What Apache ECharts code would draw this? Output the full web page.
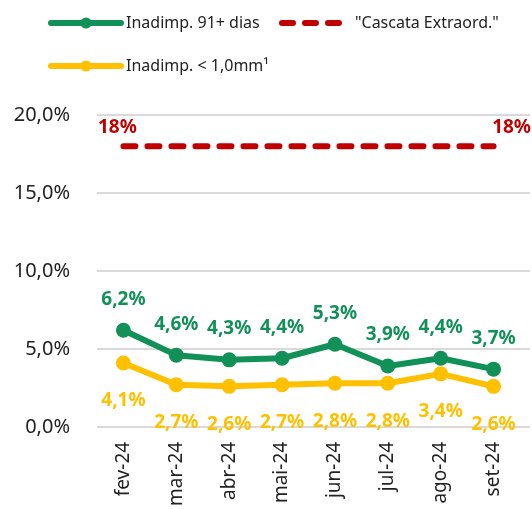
<!DOCTYPE html>
<html>
<head>
<meta charset="utf-8">
<script src="https://cdn.jsdelivr.net/npm/echarts@6/dist/echarts.min.js"></script>
<style>
  html, body { margin: 0; padding: 0; background: #fff; }
  #chart { width: 532px; height: 509px; }
</style>
</head>
<body>
<div id="chart"></div>
<script>
    // dados
    const meses = ['fev-24', 'mar-24', 'abr-24', 'mai-24', 'jun-24', 'jul-24', 'ago-24', 'set-24'];
    const inad91 = [6.2, 4.6, 4.3, 4.4, 5.3, 3.9, 4.4, 3.7];
    const inadMenor = [4.1, 2.7, 2.6, 2.7, 2.8, 2.8, 3.4, 2.6];
    const cascata = [18, 18, 18, 18, 18, 18, 18, 18];
    const yMin = 0, yMax = 20, yStep = 5;

    const VERDE = '#119158';
    const AMARELO = '#FFC000';
    const VERMELHO = '#C00000';
    const FONTE = '"Noto Sans", sans-serif';

    const pct = v => v.toFixed(1).replace('.', ',') + '%';

    // icone da legenda vermelha: tres tracos arredondados
    const ICONE_TRACOS = 'path://' +
        'M3,0 L14,0 A3,3 0 0 1 14,6 L3,6 A3,3 0 0 1 3,0 Z ' +
        'M26,0 L37,0 A3,3 0 0 1 37,6 L26,6 A3,3 0 0 1 26,0 Z ' +
        'M49,0 L60,0 A3,3 0 0 1 60,6 L49,6 A3,3 0 0 1 49,0 Z';

    // so o primeiro e o ultimo ponto da linha vermelha tem rotulo
    const cascataData = cascata.map((v, i) => {
        const last = i === cascata.length - 1;
        return {
            value: v,
            label: {
                show: i === 0 || last,
                offset: [i === 0 ? -6 : 18, 0]
            }
        };
    });

    const legendaBase = {
        itemWidth: 70,
        itemHeight: 14,
        padding: 0,
        textStyle: { fontFamily: FONTE, fontSize: 16, color: '#222' },
        lineStyle: { width: 6, cap: 'round' },
        selectedMode: false
    };

    const option = {
        animation: false,
        textStyle: { fontFamily: FONTE },
        legend: [
            Object.assign({}, legendaBase, { data: ['Inadimp. 91+ dias'], left: 48, top: 15 }),
            Object.assign({}, legendaBase, {
                data: [{ name: '"Cascata Extraord."', icon: ICONE_TRACOS }],
                left: 279, top: 15, itemWidth: 63, itemHeight: 6,
                textStyle: { fontFamily: FONTE, fontSize: 16, color: '#222', padding: [0, 0, 0, 8] }
            }),
            Object.assign({}, legendaBase, { data: ['Inadimp. < 1,0mm\u00b9'], left: 48, top: 58 })
        ],
        grid: [
            { left: 97, right: 12, top: 115, bottom: 82 },  // series
            { left: 97, right: 2, top: 115, bottom: 82 }    // linhas de grade
        ],
        xAxis: [
            {
                type: 'category',
                gridIndex: 0,
                data: meses,
                boundaryGap: true,
                axisLine: { show: false },
                axisTick: { show: false },
                axisLabel: {
                    rotate: 90,
                    margin: 15,
                    fontSize: 19,
                    color: '#222',
                    fontFamily: FONTE
                }
            },
            { type: 'value', gridIndex: 1, min: 0, max: 1, show: false }
        ],
        yAxis: [
            { type: 'value', gridIndex: 0, min: yMin, max: yMax, interval: yStep, show: false },
            {
                type: 'value',
                gridIndex: 1,
                min: yMin,
                max: yMax,
                interval: yStep,
                axisLine: { show: false },
                axisTick: { show: false },
                splitLine: { lineStyle: { color: '#d9d9d9', width: 2 } },
                axisLabel: {
                    margin: 27,
                    fontSize: 20,
                    color: '#222',
                    fontFamily: FONTE,
                    formatter: pct
                }
            }
        ],
        series: [
            {
                name: 'Inadimp. 91+ dias',
                type: 'line',
                xAxisIndex: 0,
                yAxisIndex: 0,
                data: inad91,
                symbol: 'circle',
                symbolSize: 15,
                z: 4,
                lineStyle: { color: VERDE, width: 6 },
                itemStyle: { color: VERDE },
                label: {
                    show: true,
                    position: 'top',
                    distance: 14,
                    color: VERDE,
                    fontWeight: 'bold',
                    fontSize: 19,
                    fontFamily: FONTE,
                    formatter: p => pct(p.value)
                }
            },
            {
                name: '"Cascata Extraord."',
                type: 'line',
                xAxisIndex: 0,
                yAxisIndex: 0,
                data: cascataData,
                symbol: 'circle',
                symbolSize: 0,
                z: 3,
                lineStyle: { color: VERMELHO, width: 6, type: [12, 12], cap: 'round' },
                itemStyle: { color: VERMELHO },
                label: {
                    position: 'top',
                    distance: 9,
                    color: VERMELHO,
                    fontWeight: 'bold',
                    fontSize: 19,
                    fontFamily: FONTE,
                    formatter: p => Math.round(p.value) + '%'
                }
            },
            {
                name: 'Inadimp. < 1,0mm\u00b9',
                type: 'line',
                xAxisIndex: 0,
                yAxisIndex: 0,
                data: inadMenor,
                symbol: 'circle',
                symbolSize: 15,
                z: 3,
                lineStyle: { color: AMARELO, width: 6 },
                itemStyle: { color: AMARELO },
                label: {
                    show: true,
                    position: 'bottom',
                    distance: 21,
                    color: AMARELO,
                    fontWeight: 'bold',
                    fontSize: 19,
                    fontFamily: FONTE,
                    formatter: p => pct(p.value)
                }
            }
        ]
    };

    const chart = echarts.init(document.getElementById('chart'));
    chart.setOption(option);
    window.addEventListener('resize', function () {
        chart.resize();
    });
</script>
</body>
</html>
